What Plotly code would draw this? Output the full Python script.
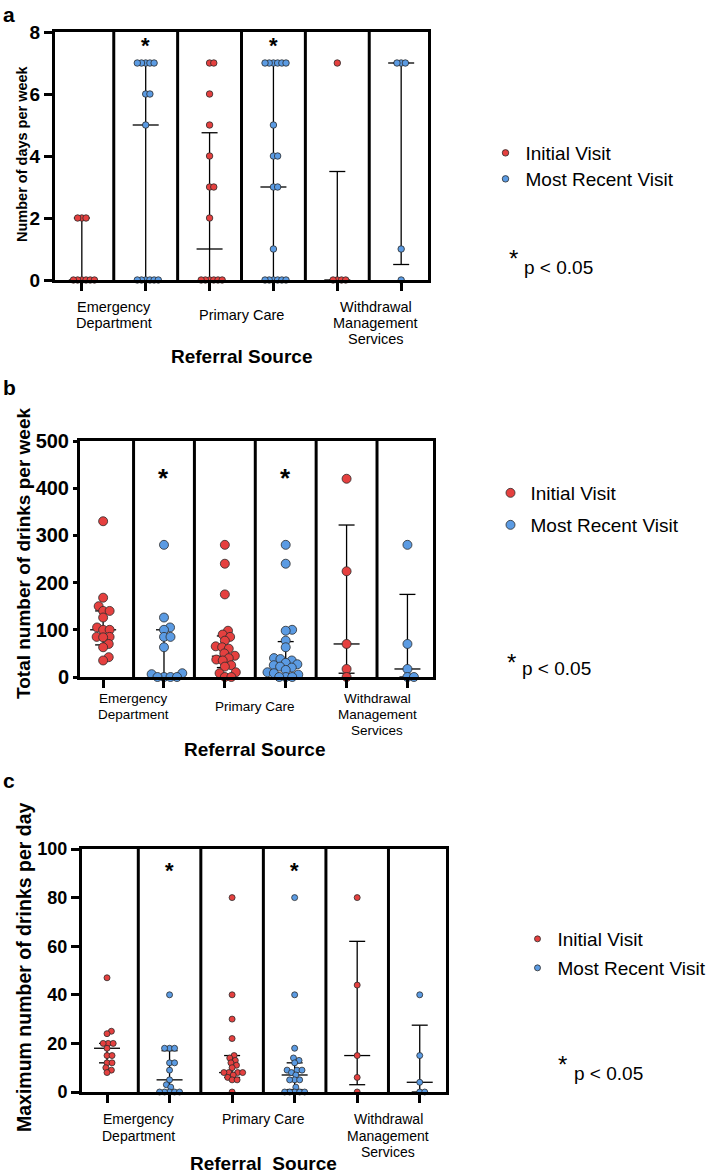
import plotly.graph_objects as go

W, H = 708, 1174
FONT = "Liberation Sans, Arial, Helvetica, sans-serif"
RED = "#E5403F"
BLUE = "#5B9BE3"
EDGE = "#2B2B2B"

source_lines = [["Emergency", "Department"], ["Primary Care"], ["Withdrawal", "Management", "Services"]]

# a: number of days per week
days_ticks = [0, 2, 4, 6, 8]
days_ed_init = [2, 2, 2, 0, 0, 0, 0, 0, 0]
days_ed_recent = [7, 7, 7, 7, 7, 6, 6, 5, 0, 0, 0, 0, 0, 0]
days_pc_init = [7, 7, 6, 5, 4, 3, 3, 2, 0, 0, 0, 0, 0, 0]
days_pc_recent = [7, 7, 7, 7, 7, 7, 5, 4, 4, 3, 3, 1, 0, 0, 0, 0, 0, 0]
days_wms_init = [7, 0, 0, 0, 0]
days_wms_recent = [7, 7, 7, 1, 0]
days_median = [0, 5, 1, 3, 0, 7]
days_q1 = [0, 0, 0, 0, 0, 0.5]
days_q3 = [2, 7, 4.75, 7, 3.5, 7]

# b: total number of drinks per week
weekly_ticks = [0, 100, 200, 300, 400, 500]
weekly_ed_init = [330, 168, 150, 140, 140, 126, 105, 100, 100, 85, 85, 84, 70, 63, 42, 35]
weekly_ed_recent = [280, 126, 105, 100, 85, 85, 63, 8, 6, 0, 0, 0, 0]
weekly_pc_init = [280, 240, 175, 98, 90, 85, 77, 65, 63, 60, 50, 45, 40, 37, 35, 25, 22, 10, 8, 0, 0]
weekly_pc_recent = [280, 240, 100, 98, 77, 63, 40, 38, 35, 30, 27, 25, 22, 20, 15, 10, 8, 5, 0, 0, 0]
weekly_wms_init = [420, 224, 70, 17, 0]
weekly_wms_recent = [280, 70, 17, 0, 0]
weekly_median = [100, 5, 44, 25, 70, 17]
weekly_q1 = [68, 0, 20, 5, 8, 0]
weekly_q3 = [140, 100, 87, 75, 322, 175]

# c: maximum number of drinks per day
daily_ticks = [0, 20, 40, 60, 80, 100]
daily_ed_init = [47, 25, 24, 20, 20, 20, 18, 15, 15, 12, 12, 10, 9, 8]
daily_ed_recent = [40, 18, 18, 18, 12, 12, 9, 5, 3, 2, 0, 0, 0, 0, 0]
daily_pc_init = [80, 40, 30, 22, 15, 14, 13, 12, 11, 10, 8, 8, 8, 8, 7, 6, 5, 5, 0]
daily_pc_recent = [80, 40, 18, 14, 13, 12, 9, 9, 9, 8, 7, 5, 5, 5, 2, 0, 0, 0, 0, 0]
daily_wms_init = [80, 44, 15, 6, 0]
daily_wms_recent = [40, 15, 4, 0, 0]
daily_median = [18, 5, 8, 7, 15, 4]
daily_q1 = [12, 0, 6, 1, 3, 0]
daily_q3 = [20, 17, 15, 12, 62, 27.5]

signif_groups = [1, 3]


def swarm_offsets(values, px_y, gap):
    # beeswarm: each point goes as close to the centre as it can without overlapping
    order = sorted(range(len(values)), key=lambda k: (values[k], k))
    placed = []
    out = [0.0] * len(values)
    for k in order:
        yp = values[k] * px_y
        blocked = []
        for xo, yo in placed:
            dy = abs(yp - yo)
            if dy < gap:
                dx = (gap * gap - dy * dy) ** 0.5
                blocked.append((xo - dx, xo + dx))
        cands = [0.0] + [b for iv in blocked for b in iv]
        cands.sort(key=lambda c: (round(abs(c), 6), -c))
        pick = 0.0
        for c in cands:
            if all(not (lo + 1e-6 < c < hi - 1e-6) for lo, hi in blocked):
                pick = c
                break
        placed.append((pick, yp))
        out[k] = pick
    return out


panels = [
    dict(letter="a", letter_y=14,
         groups=[days_ed_init, days_ed_recent, days_pc_init, days_pc_recent, days_wms_init, days_wms_recent],
         median=days_median, q1=days_q1, q3=days_q3, ticks=days_ticks,
         x_px=(55, 428), y_px=(32, 280), xrange=(-0.42, 5.42), yrange=(0, 8),
         tick_size=19, ticklen=8, size=6.5, gap=4.2,
         ytitle="Number of days per week", ytitle_size=14.5, ytitle_xy=(22, 154),
         star=7.65, star_size=22,
         label_size=14.5, label_x=[0.5, 2.5, 4.6], label_y=307, label_step=16, pc_mid=True,
         xtitle="Referral Source", xtitle_y=357,
         leg_dots=(505, 153, 179),
         p_star=(513, 258), p_text=(522, 267)),
    dict(letter="b", letter_y=387,
         groups=[weekly_ed_init, weekly_ed_recent, weekly_pc_init, weekly_pc_recent, weekly_wms_init, weekly_wms_recent],
         median=weekly_median, q1=weekly_q1, q3=weekly_q3, ticks=weekly_ticks,
         x_px=(80, 433), y_px=(441, 677), xrange=(-0.38, 5.42), yrange=(0, 500),
         tick_size=20, ticklen=4, size=9, gap=6.5,
         ytitle="Total number of drinks per week", ytitle_size=19, ytitle_xy=(23, 554),
         star=428, star_size=26,
         label_size=13.5, label_x=[0.5, 2.5, 4.5], label_y=698, label_step=16, pc_mid=True,
         xtitle="Referral Source", xtitle_y=749,
         leg_dots=(510, 493, 525),
         p_star=(511, 662), p_text=(520, 668)),
    dict(letter="c", letter_y=780,
         groups=[daily_ed_init, daily_ed_recent, daily_pc_init, daily_pc_recent, daily_wms_init, daily_wms_recent],
         median=daily_median, q1=daily_q1, q3=daily_q3, ticks=daily_ticks,
         x_px=(82, 446), y_px=(849, 1092), xrange=(-0.4, 5.42), yrange=(0, 100),
         tick_size=18, ticklen=8, size=6, gap=5,
         ytitle="Maximum number of drinks per day", ytitle_size=19.5, ytitle_xy=(24, 967),
         star=92, star_size=22,
         label_size=14, label_x=[0.5, 2.5, 4.5], label_y=1119, label_step=16.5, pc_mid=False,
         xtitle="Referral  Source", xtitle_y=1163,
         leg_dots=(537, 939, 968),
         p_star=(562, 1064), p_text=(572, 1073)),
]

fig = go.Figure()
annotations = []
shapes = []
layout = {}


def px(x):
    return x / W


def py(y):
    return 1 - y / H


def note(x, y, s, size, xanchor="center", yanchor="middle", angle=0, **kw):
    annotations.append(dict(x=x, y=y, text=s, showarrow=False, xanchor=xanchor, yanchor=yanchor,
                            textangle=angle, font=dict(family=FONT, size=size, color="black"), **kw))


for n, p in enumerate(panels, start=1):
    sfx = "" if n == 1 else str(n)
    xa, ya = "x" + sfx, "y" + sfx
    (x0, x1), (y0, y1) = p["x_px"], p["y_px"]
    xr, yr = p["xrange"], p["yrange"]
    px_x = (x1 - x0) / (xr[1] - xr[0])
    px_y = (y1 - y0) / (yr[1] - yr[0])

    # median line with interquartile range
    m_hw, c_hw = 13 / px_x, 8 / px_x
    ex, ey = [], []
    for i in range(6):
        lo, med, hi = p["q1"][i], p["median"][i], p["q3"][i]
        ex += [i, i, None, i - c_hw, i + c_hw, None, i - c_hw, i + c_hw, None, i - m_hw, i + m_hw, None]
        ey += [lo, hi, None, hi, hi, None, lo, lo, None, med, med, None]
    fig.add_trace(go.Scatter(x=ex, y=ey, mode="lines", line=dict(color="black", width=1.3),
                             xaxis=xa, yaxis=ya, showlegend=False, hoverinfo="skip", cliponaxis=False))

    dot_x, dot_y1, dot_y2 = p["leg_dots"]
    series = ((RED, "Initial Visit", (0, 2, 4), dot_y1), (BLUE, "Most Recent Visit", (1, 3, 5), dot_y2))
    for k, (color, name, idx, ly) in enumerate(series):
        xs, ys = [], []
        for i in idx:
            vals = p["groups"][i]
            offs = swarm_offsets(vals, px_y, p["gap"])
            xs += [i + o / px_x for o in offs]
            ys += vals
        num = 2 * n - 1 + k
        leg = "legend" + ("" if num == 1 else str(num))
        fig.add_trace(go.Scatter(
            x=xs, y=ys, mode="markers", name=name, xaxis=xa, yaxis=ya,
            marker=dict(color=color, size=p["size"], line=dict(color=EDGE, width=0.8)),
            legend=leg, cliponaxis=False))
        layout[leg] = dict(
            x=px(dot_x - 19.5), y=py(ly), xanchor="left", yanchor="middle",
            font=dict(family=FONT, size=19, color="black"), bgcolor="rgba(0,0,0,0)",
            itemsizing="trace", borderwidth=0)

    layout["xaxis" + sfx] = dict(
        domain=[px(x0), px(x1)], range=list(xr), anchor=ya, tickvals=list(range(6)),
        ticks="outside", ticklen=8, tickwidth=3, tickcolor="black", showticklabels=False,
        showline=True, linewidth=3, linecolor="black", mirror=True, showgrid=False, zeroline=False,
        automargin=False)
    layout["yaxis" + sfx] = dict(
        domain=[py(y1), py(y0)], range=list(yr), anchor=xa,
        tickvals=p["ticks"], ticktext=["<b>%d</b>" % t for t in p["ticks"]],
        ticks="outside", ticklen=p["ticklen"], tickwidth=3, tickcolor="black",
        tickfont=dict(family=FONT, size=p["tick_size"], color="black"),
        showline=True, linewidth=3, linecolor="black", mirror=True, showgrid=False, zeroline=False,
        automargin=False)

    for i in range(5):
        shapes.append(dict(type="line", xref=xa, yref=ya + " domain", x0=i + 0.5, x1=i + 0.5, y0=0, y1=1,
                           line=dict(color="black", width=3), layer="below"))

    for g in signif_groups:
        note(g, p["star"], "<b>*</b>", p["star_size"], xref=xa, yref=ya, yshift=-0.1 * p["star_size"])

    for j, lines in enumerate(source_lines):
        if len(lines) == 1 and p["pc_mid"]:
            ys_ = [p["label_y"] + p["label_step"] / 2]
        else:
            ys_ = [p["label_y"] + k * p["label_step"] for k in range(len(lines))]
        for line, yy in zip(lines, ys_):
            note(p["label_x"][j], py(yy), line, p["label_size"], xref=xa, yref="paper")

    note(2.5, py(p["xtitle_y"]), "<b>" + p["xtitle"] + "</b>", 19, xref=xa, yref="paper")
    note(px(p["ytitle_xy"][0]), py(p["ytitle_xy"][1]), "<b>" + p["ytitle"] + "</b>", p["ytitle_size"],
         angle=-90, xref="paper", yref="paper")
    note(px(1), py(p["letter_y"]), "<b>" + p["letter"] + "</b>", 21, xanchor="left", xref="paper", yref="paper")

    note(px(p["p_star"][0]), py(p["p_star"][1]), "*", 24, xref="paper", yref="paper")
    note(px(p["p_text"][0]), py(p["p_text"][1]), "p < 0.05", 19, xanchor="left", xref="paper", yref="paper")

fig.update_layout(
    width=W, height=H, margin=dict(l=0, r=0, t=0, b=0, autoexpand=False),
    paper_bgcolor="white", plot_bgcolor="white",
    font=dict(family=FONT, color="black"),
    annotations=annotations, shapes=shapes, **layout)

css = ("var s=document.createElement('style');"
       "s.innerHTML='html,body{margin:0;padding:0;overflow:hidden;}';"
       "document.head.appendChild(s);")
fig.write_html("out.html", config={"displayModeBar": False}, post_script=css)
